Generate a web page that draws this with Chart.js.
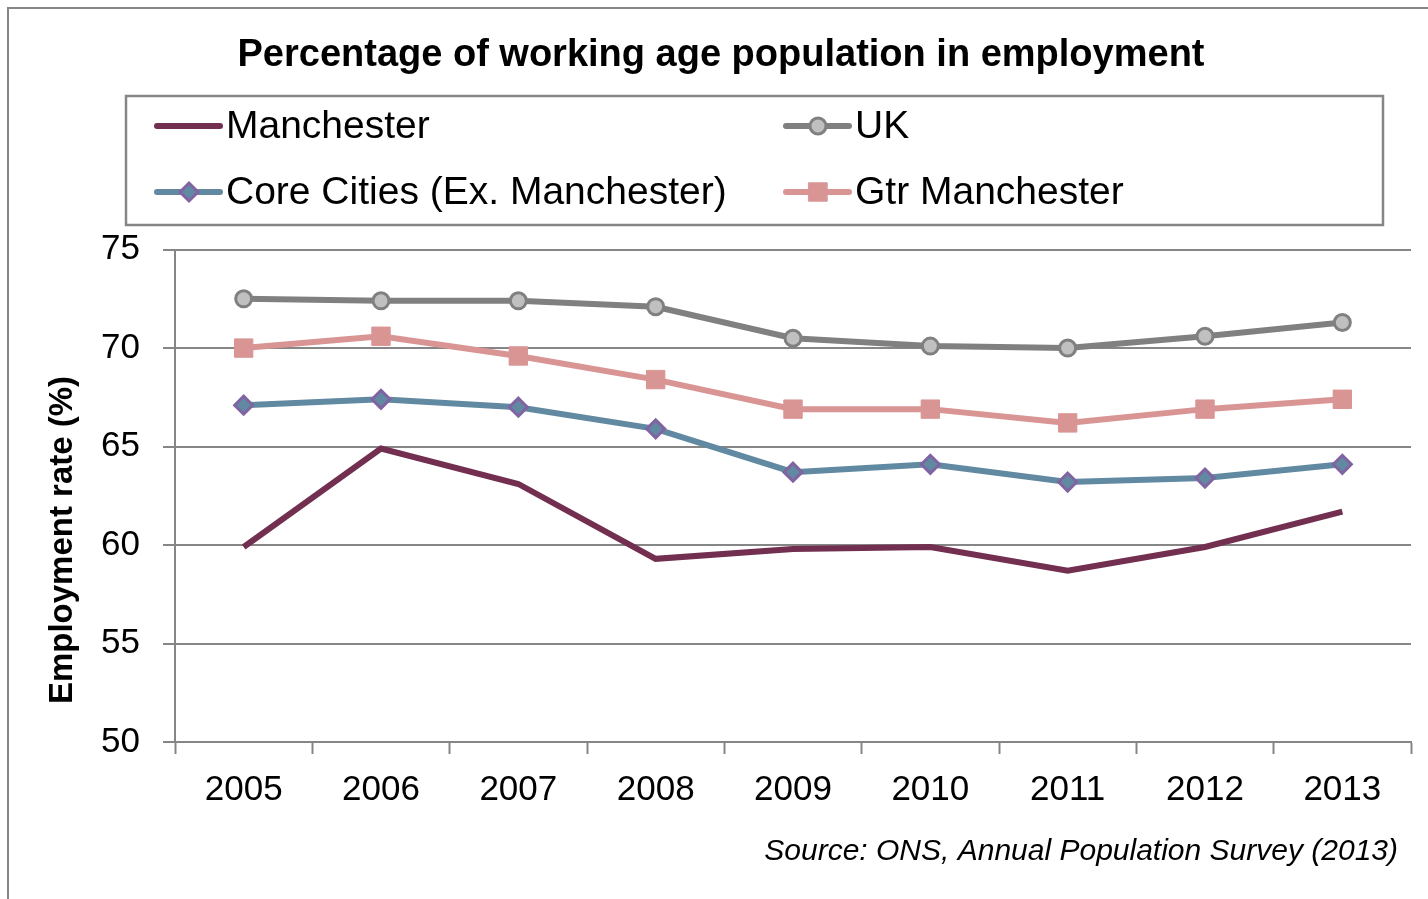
<!DOCTYPE html>
<html>
<head>
<meta charset="utf-8">
<script src="https://cdn.jsdelivr.net/npm/chart.js@4.4.1/dist/chart.umd.min.js"></script>
<style>
    html, body { margin: 0; padding: 0; background: #fff; }
    #employment-chart { display: block; }
</style>
</head>
<body>
<canvas id="employment-chart" width="1428" height="899"></canvas>
<script>
// Values (employment rate, %)
const years = ['2005', '2006', '2007', '2008', '2009', '2010', '2011', '2012', '2013'];
const manchester = [59.9, 64.9, 63.1, 59.3, 59.8, 59.9, 58.7, 59.9, 61.7];
const uk = [72.5, 72.4, 72.4, 72.1, 70.5, 70.1, 70.0, 70.6, 71.3];
const coreCities = [67.1, 67.4, 67.0, 65.9, 63.7, 64.1, 63.2, 63.4, 64.1];
const gtrManchester = [70.0, 70.6, 69.6, 68.4, 66.9, 66.9, 66.2, 66.9, 67.4];
const yTicks = [50, 55, 60, 65, 70, 75];
const sourceNote = 'Source: ONS, Annual Population Survey (2013)';

const FONT = '"Liberation Sans", Arial, sans-serif';
const GRID = '#868686';

// frame, legend box, rotated axis title and source note
const decorPlugin = {
    id: 'decor',
    beforeDraw(chart) {
        const ctx = chart.ctx;
        ctx.save();
        ctx.fillStyle = '#fff';
        ctx.fillRect(0, 0, chart.width, chart.height);
        ctx.strokeStyle = GRID;
        ctx.lineWidth = 2;
        ctx.beginPath();
        ctx.moveTo(8, chart.height);
        ctx.lineTo(8, 8);
        ctx.lineTo(chart.width, 8);
        ctx.stroke();
        ctx.restore();
    },
    afterDraw(chart) {
        const ctx = chart.ctx;
        ctx.save();
        ctx.strokeStyle = GRID;
        ctx.lineWidth = 2.5;
        ctx.strokeRect(126, 96, 1257, 129);

        // legend layout: two columns, two rows
        const slots = [
            { ds: 0, x: 157, y: 126 },
            { ds: 1, x: 786, y: 126 },
            { ds: 2, x: 157, y: 192 },
            { ds: 3, x: 786, y: 192 }
        ];
        ctx.font = `39px ${FONT}`;
        ctx.textBaseline = 'middle';
        ctx.textAlign = 'left';
        slots.forEach(s => {
            const d = chart.data.datasets[s.ds];
            ctx.strokeStyle = d.borderColor;
            ctx.lineWidth = 6;
            ctx.lineCap = 'round';
            ctx.beginPath();
            ctx.moveTo(s.x, s.y);
            ctx.lineTo(s.x + 63, s.y);
            ctx.stroke();
            if (d.pointRadius > 0) {
                ctx.fillStyle = d.pointBackgroundColor;
                ctx.strokeStyle = d.pointBorderColor;
                ctx.lineWidth = d.pointBorderWidth;
                Chart.helpers.drawPoint(ctx, {
                    pointStyle: d.pointStyle,
                    rotation: 0,
                    radius: d.pointRadius,
                    borderWidth: d.pointBorderWidth
                }, s.x + 32, s.y);
            }
            ctx.fillStyle = '#000';
            ctx.fillText(d.label, s.x + 69, s.y + 1);
        });

        ctx.font = `italic 30px ${FONT}`;
        ctx.textAlign = 'right';
        ctx.fillText(sourceNote, 1398, 852);

        ctx.translate(63, 540);
        ctx.rotate(-Math.PI / 2);
        ctx.font = `bold 33px ${FONT}`;
        ctx.textAlign = 'center';
        ctx.fillText('Employment rate (%)', 0, 0);
        ctx.restore();
    }
};

const canvas = document.getElementById('employment-chart');
new Chart(canvas.getContext('2d'), {
    type: 'line',
    data: {
        labels: years,
        datasets: [
            {
                label: 'Manchester',
                data: manchester,
                borderColor: '#722F50',
                borderWidth: 6,
                pointRadius: 0,
                pointStyle: 'circle',
                tension: 0
            },
            {
                label: 'UK',
                data: uk,
                borderColor: '#808080',
                borderWidth: 6,
                pointStyle: 'circle',
                pointRadius: 8,
                pointBorderWidth: 3,
                pointBackgroundColor: '#C0C0C0',
                pointBorderColor: '#808080',
                tension: 0
            },
            {
                label: 'Core Cities (Ex. Manchester)',
                data: coreCities,
                borderColor: '#6189A2',
                borderWidth: 6,
                pointStyle: 'rectRot',
                pointRadius: 9,
                pointBorderWidth: 3,
                pointBackgroundColor: '#6189A2',
                pointBorderColor: '#8064A2',
                tension: 0
            },
            {
                label: 'Gtr Manchester',
                data: gtrManchester,
                borderColor: '#D99594',
                borderWidth: 6,
                pointStyle: 'rect',
                pointRadius: 13,
                pointBorderWidth: 1,
                pointBackgroundColor: '#D99594',
                pointBorderColor: '#D99594',
                tension: 0
            }
        ]
    },
    options: {
        responsive: false,
        animation: false,
        devicePixelRatio: 1,
        layout: { padding: { left: 31, right: 17, top: 0, bottom: 0 } },
        plugins: {
            legend: { display: false },
            tooltip: { enabled: false },
            title: {
                display: true,
                text: 'Percentage of working age population in employment',
                color: '#000',
                font: { family: FONT, size: 38, weight: 'bold' },
                padding: { top: 33, bottom: 171 }
            }
        },
        scales: {
            x: {
                offset: true,
                grid: {
                    offset: true,
                    drawOnChartArea: false,
                    drawTicks: true,
                    tickLength: 12,
                    tickWidth: 2,
                    tickColor: GRID,
                    color: GRID
                },
                border: { display: true, color: GRID, width: 2 },
                ticks: {
                    color: '#000',
                    padding: 15,
                    maxRotation: 0,
                    font: { family: FONT, size: 35 }
                },
                afterFit(scale) { scale.height = 157; }
            },
            y: {
                min: yTicks[0],
                max: yTicks[yTicks.length - 1],
                afterBuildTicks(scale) { scale.ticks = yTicks.map(v => ({ value: v })); },
                grid: {
                    color: GRID,
                    lineWidth: 2,
                    tickLength: 12,
                    tickColor: GRID,
                    tickWidth: 2
                },
                border: { display: true, color: GRID, width: 2 },
                ticks: {
                    color: '#000',
                    padding: 23,
                    font: { family: FONT, size: 35 }
                },
                afterFit(scale) { scale.width = 144; }
            }
        }
    },
    plugins: [decorPlugin]
});
</script>
</body>
</html>
